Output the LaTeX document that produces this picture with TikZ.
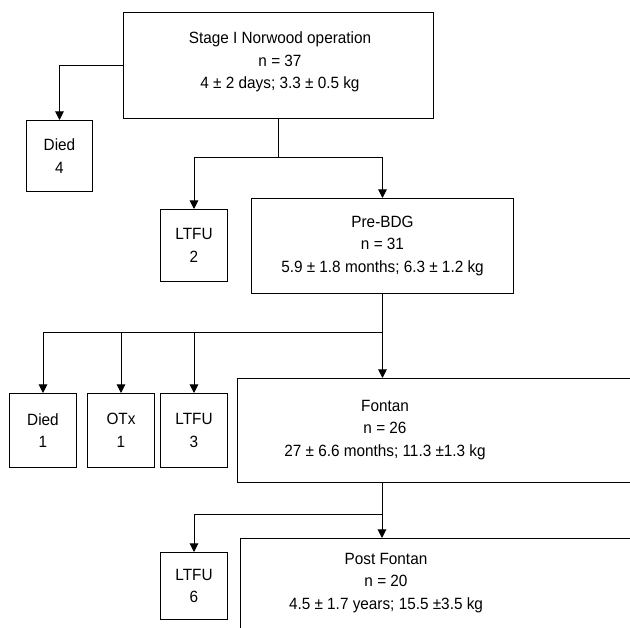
\documentclass[tikz,border=0pt]{standalone}
\usepackage{fontspec}
\setmainfont[FakeStretch=0.94]{Liberation Sans}
\usetikzlibrary{arrows.meta}
\begin{document}
\begin{tikzpicture}[x=1pt,y=-1pt,
  box/.style={draw, line width=1pt, align=center, inner sep=0pt, anchor=north west,
    font=\fontsize{16.3}{22.5}\selectfont},
  txt/.style={align=center, inner sep=0pt, font=\fontsize{16.3}{22.5}\selectfont},
  link/.style={line width=1pt},
  arr/.style={line width=1pt, -{Triangle[length=8.5pt,width=8.5pt]}}]
\useasboundingbox (0,0) rectangle (630,628);
\clip (0,0) rectangle (630,628);
\fill[white] (0,0) rectangle (630,628);
% boxes
\node[box, minimum width=310pt, minimum height=106pt] (stage) at (123,12) {};
\node[txt] (stagetext) at (280,62) {Stage I Norwood operation\\n = 37\\4 ± 2 days; 3.3 ± 0.5 kg};
\node[box, minimum width=66pt, minimum height=71pt] (died4) at (26,120) {Died\\4};
\node[box, minimum width=67pt, minimum height=72pt] (ltfu2) at (160,209) {LTFU\\2};
\node[box, minimum width=262pt, minimum height=95pt] (prebdg) at (251,198)
  {Pre-BDG\\n = 31\\5.9 ± 1.8 months; 6.3 ± 1.2 kg};
\node[box, minimum width=67pt, minimum height=74pt] (died1) at (9,393) {Died\\1};
\node[box, minimum width=67pt, minimum height=74pt] (otx) at (87,393) {OTx\\1};
\node[box, minimum width=67pt, minimum height=74pt] (ltfu3) at (160,393) {LTFU\\3};
\node[box, minimum width=463pt, minimum height=104pt] (fontan) at (237,378) {};
\node[txt] (fontantext) at (385,430) {Fontan\\n = 26\\27 ± 6.6 months; 11.3 ±1.3 kg};
\node[box, minimum width=67pt, minimum height=67pt] (ltfu6) at (160,552) {LTFU\\6};
\node[box, minimum width=460pt, minimum height=160pt] (post) at (240,538) {};
\node[txt] (posttext) at (386,583) {Post Fontan\\n = 20\\4.5 ± 1.7 years; 15.5 ±3.5 kg};
% connectors
\coordinate (j1) at (278,158);
\coordinate (j2) at (382,333);
\coordinate (j3) at (382,515);
\draw[arr] (stage.west |- 0,66) -| (died4.north);
\draw[link] (stage.south -| j1) -- (j1);
\draw[arr] (j1) -| (ltfu2.north);
\draw[arr] (j1) -| (prebdg.north);
\draw[arr] (prebdg.south) -- (prebdg.south |- fontan.north);
\draw[arr] (j2) -| (died1.north);
\draw[arr] (otx.north |- j2) -- (otx.north);
\draw[arr] (ltfu3.north |- j2) -- (ltfu3.north);
\draw[link] (j2) -- (died1.north |- j2);
\draw[arr] (j3 |- fontan.south) -- (j3 |- post.north);
\draw[arr] (j3) -| (ltfu6.north);
\end{tikzpicture}
\end{document}
